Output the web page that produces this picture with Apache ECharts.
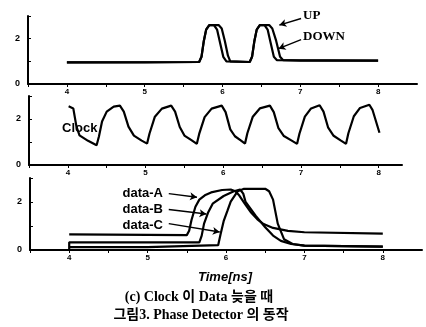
<!DOCTYPE html>
<html><head><meta charset="utf-8">
<style>html,body{margin:0;padding:0;background:#fff}#c{width:426px;height:327px}</style>
<script src="https://cdn.jsdelivr.net/npm/echarts/dist/echarts.min.js"></script>
</head><body><div id="c"></div>
<script>
// tick labels
const xTickLabels = [4, 5, 6, 7, 8];
const yTickLabels = [0, 2];

// Panel 1: UP / DOWN
const upT   = [4.00, 5.00, 5.70, 5.73, 5.76, 5.79, 5.83, 5.95, 5.99, 6.03, 6.07, 6.10, 6.35, 6.38, 6.41, 6.44, 6.48, 6.60, 6.64, 6.69, 6.74, 6.78, 7.00, 8.00];
const upV   = [0.95, 0.95, 0.97, 1.20, 1.90, 2.40, 2.60, 2.60, 2.45, 1.90, 1.25, 1.00, 0.97, 1.20, 1.90, 2.40, 2.60, 2.60, 2.45, 1.90, 1.20, 1.05, 1.03, 1.03];
const downT = [4.00, 5.70, 5.73, 5.76, 5.79, 5.83, 5.89, 5.93, 5.97, 6.01, 6.05, 6.35, 6.38, 6.41, 6.44, 6.48, 6.54, 6.58, 6.62, 6.66, 6.70, 8.00];
const downV = [0.95, 0.97, 1.20, 1.90, 2.40, 2.60, 2.60, 2.40, 1.80, 1.20, 1.00, 0.97, 1.20, 1.90, 2.40, 2.60, 2.60, 2.40, 1.80, 1.20, 1.05, 1.03];

// Panel 2: Clock
const clockT = [4.01, 4.07, 4.11, 4.15, 4.26, 4.37, 4.40, 4.44, 4.50, 4.59, 4.67, 4.72, 4.78, 4.85, 4.95, 5.02, 5.05, 5.12, 5.21, 5.33, 5.38, 5.44, 5.50, 5.59, 5.66, 5.69, 5.76, 5.85, 5.98, 6.03, 6.09, 6.15, 6.22, 6.28, 6.31, 6.38, 6.47, 6.60, 6.65, 6.71, 6.78, 6.87, 6.95, 6.98, 7.05, 7.13, 7.24, 7.29, 7.35, 7.42, 7.51, 7.58, 7.61, 7.68, 7.76, 7.88, 7.92, 8.01];
const clockV = [2.55, 2.46, 1.68, 1.29, 1.05, 0.86, 1.24, 1.89, 2.32, 2.54, 2.58, 2.32, 1.67, 1.28, 1.06, 0.93, 1.36, 2.10, 2.45, 2.58, 2.32, 1.65, 1.28, 1.08, 0.92, 1.35, 2.08, 2.45, 2.58, 2.30, 1.55, 1.25, 1.08, 0.93, 1.38, 2.10, 2.46, 2.58, 2.30, 1.60, 1.26, 1.08, 0.92, 1.36, 2.10, 2.46, 2.60, 2.32, 1.62, 1.27, 1.07, 0.92, 1.38, 2.12, 2.48, 2.62, 2.40, 1.40];

// Panel 3: data-A / data-B / data-C
const dataAT = [4.00, 5.50, 5.53, 5.56, 5.61, 5.66, 5.73, 5.81, 5.95, 6.06, 6.12, 6.17, 6.25, 6.32, 6.40, 6.48, 6.60, 6.79, 7.00, 8.00];
const dataAV = [0.65, 0.62, 0.80, 1.25, 1.80, 2.10, 2.28, 2.40, 2.50, 2.52, 2.45, 2.27, 1.88, 1.56, 1.28, 1.08, 0.92, 0.80, 0.74, 0.68];
const dataBT = [4.00, 4.00, 5.66, 5.69, 5.72, 5.77, 5.83, 5.97, 6.10, 6.18, 6.22, 6.25, 6.38, 6.50, 6.60, 6.70, 6.83, 7.00, 8.00];
const dataBV = [0.00, 0.32, 0.32, 0.60, 1.10, 1.55, 1.93, 2.25, 2.45, 2.52, 2.35, 2.00, 1.42, 0.95, 0.60, 0.38, 0.25, 0.18, 0.14];
const dataCT = [4.00, 5.00, 5.01, 5.90, 5.93, 5.97, 6.02, 6.06, 6.15, 6.23, 6.50, 6.55, 6.60, 6.66, 6.74, 6.85, 7.00, 8.00];
const dataCV = [0.12, 0.12, 0.20, 0.20, 0.65, 1.20, 1.65, 2.02, 2.45, 2.55, 2.55, 2.45, 2.10, 1.10, 0.45, 0.25, 0.18, 0.14];

function pairs(t, v) { return t.map((x, i) => [x, v[i]]); }

const chart = echarts.init(document.getElementById('c'), null, { renderer: 'canvas' });

function xAxis(gi, max) {
  return {
    gridIndex: gi, type: 'value', min: 3.5, max: max, interval: 0.5,
    axisLine: { show: true, lineStyle: { color: '#000', width: 2 } },
    axisTick: { show: true, length: 3, lineStyle: { color: '#000', width: 1 } },
    axisLabel: { formatter: v => xTickLabels.includes(v) ? String(v) : '', fontSize: 8, fontWeight: 'bold',
      color: '#000', margin: 4, fontFamily: 'Liberation Sans', showMaxLabel: false },
    splitLine: { show: false }
  };
}
function yAxis(gi) {
  return {
    gridIndex: gi, type: 'value', min: 0, max: 3, interval: 1,
    axisLine: { show: true, lineStyle: { color: '#000', width: 2 } },
    axisTick: { show: true, inside: true, length: 3, lineStyle: { color: '#000', width: 1 } },
    axisLabel: { formatter: v => yTickLabels.includes(v) ? String(v) : '', fontSize: 9, fontWeight: 'bold',
      color: '#000', margin: 8, fontFamily: 'Liberation Sans' },
    splitLine: { show: false }
  };
}
const lineStyle = { color: '#000', width: 2.2 };
function arrows(list) {
  return {
    silent: true, symbol: ['none', 'arrow'], symbolSize: [6, 7], animation: false,
    lineStyle: { color: '#000', width: 1.4, type: 'solid' }, label: { show: false },
    data: list.map(a => [{ coord: a[0] }, { coord: a[1] }])
  };
}
function series(name, gi, t, v, marks) {
  const s = { name, type: 'line', xAxisIndex: gi, yAxisIndex: gi, data: pairs(t, v), showSymbol: false,
    lineStyle, animation: false, clip: false };
  if (marks) s.markLine = arrows(marks);
  return s;
}
const bigFontSerif = '"Liberation Serif", "Noto Sans CJK KR"';
function txt(text, x, y, font, align) {
  return { type: 'text', silent: true, style: { text, x, y, font, fill: '#000',
    textAlign: align, align: align, textVerticalAlign: 'middle', verticalAlign: 'middle' } };
}

chart.setOption({
  animation: false,
  backgroundColor: '#fff',
  grid: [
    { left: 28, right: 9, top: 16, height: 68 },
    { left: 29, right: 24, top: 96, height: 69 },
    { left: 30, right: 4, top: 178, height: 72 }
  ],
  xAxis: [xAxis(0, 8.5), xAxis(1, 8.3), xAxis(2, 8.5)],
  yAxis: [yAxis(0), yAxis(1), yAxis(2)],
  series: [
    series('UP', 0, upT, upV, [[[7.01, 2.89], [6.73, 2.6]], [[7.01, 1.96], [6.72, 1.56]]]),
    series('DOWN', 0, downT, downV),
    series('Clock', 1, clockT, clockV),
    series('data-A', 2, dataAT, dataAV, [[[5.27, 2.35], [5.63, 2.2]]]),
    series('data-B', 2, dataBT, dataBV, [[[5.27, 1.69], [5.75, 1.5]]]),
    series('data-C', 2, dataCT, dataCV, [[[5.27, 1.10], [5.92, 0.75]]])
  ],
  graphic: [
    txt('UP', 303, 16, 'bold 13px "Liberation Serif"', 'left'),
    txt('DOWN', 303, 37, 'bold 13px "Liberation Serif"', 'left'),
    txt('Clock', 62, 128, 'bold 13px "Liberation Sans"', 'left'),
    txt('data-A', 163, 193, 'bold 13px "Liberation Sans"', 'right'),
    txt('data-B', 163, 209, 'bold 13px "Liberation Sans"', 'right'),
    txt('data-C', 163, 225, 'bold 13px "Liberation Sans"', 'right'),
    txt('Time[ns]', 225, 277, 'italic bold 13px "Liberation Sans"', 'center'),
    txt('(c) Clock 이 Data 늦을 때', 199, 297, 'bold 14px ' + bigFontSerif, 'center'),
    txt('그림3. Phase Detector 의 동작', 201, 315, 'bold 14px ' + bigFontSerif, 'center')
  ]
});
</script>
</body></html>
